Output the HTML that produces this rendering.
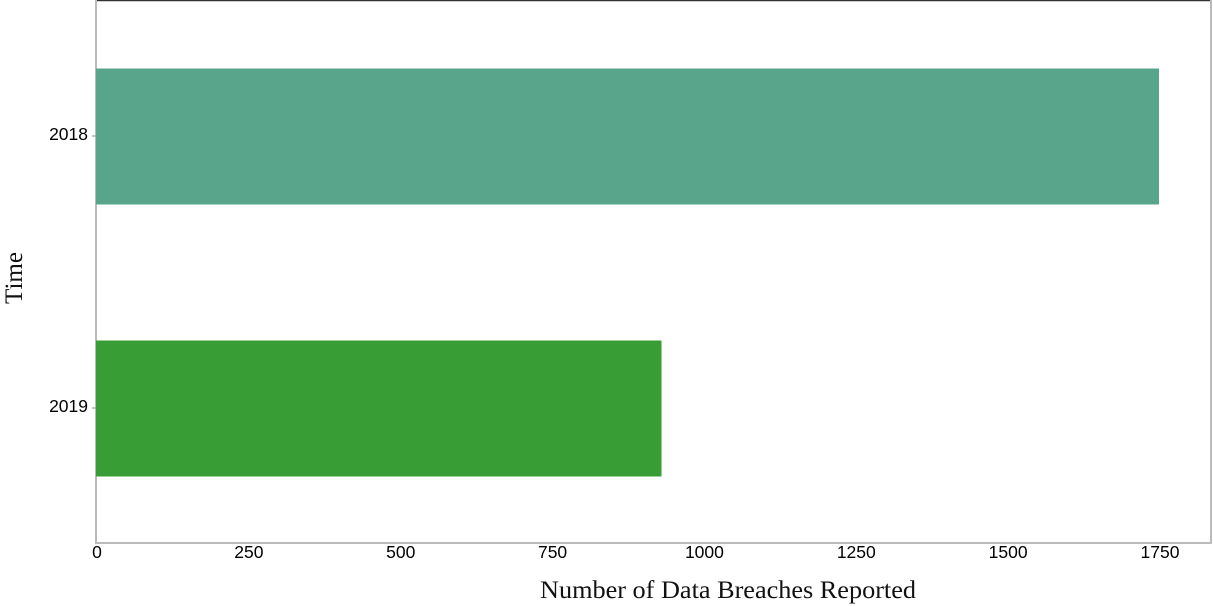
<!DOCTYPE html>
<html><head><meta charset="utf-8"><style>
body{margin:0;background:#fff}
svg{display:block}
</style></head><body>
<svg id="chart" width="1213" height="607">
<line x1="96" y1="0.5" x2="1211" y2="0.5" stroke="#333" stroke-width="1.5"/>
<line x1="1211" y1="0" x2="1211" y2="543" stroke="#bbb" stroke-width="2"/>
<line x1="96" y1="0" x2="96" y2="543" stroke="#bbb" stroke-width="2"/>
<line x1="95" y1="543" x2="1212" y2="543" stroke="#bbb" stroke-width="2"/>
<g id="bars"></g><g id="xticks"></g><g id="yticks"></g>
<text x="540" y="598" textLength="376" lengthAdjust="spacingAndGlyphs" font-family="Liberation Serif, serif" font-size="25" fill="#111">Number of Data Breaches Reported</text>
<text transform="translate(22,278) rotate(-90)" text-anchor="middle" font-family="Liberation Serif, serif" font-size="25" fill="#111">Time</text>
</svg>
<script>
const categories = ["2018", "2019"];
const values = [1750, 931];
const colors = ["#59a58c", "#389d35"];
const xTicks = [0, 250, 500, 750, 1000, 1250, 1500, 1750];
const ns = "http://www.w3.org/2000/svg";
const x = v => 96 + v * (1063 / 1750);
const band = 272, y0 = 0, barH = 136;
const yc = i => y0 + band * i + band / 2;
const bars = document.getElementById('bars');
categories.forEach((c, i) => {
  const r = document.createElementNS(ns, 'rect');
  r.setAttribute('x', x(0)); r.setAttribute('y', yc(i) - barH / 2 + 0.5);
  r.setAttribute('width', x(values[i]) - x(0)); r.setAttribute('height', barH);
  r.setAttribute('fill', colors[i]);
  
  
  bars.appendChild(r);
  const t = document.createElementNS(ns, 'text');
  t.setAttribute('x', 88); t.setAttribute('y', yc(i) + 4);
  t.setAttribute('text-anchor', 'end'); t.setAttribute('font-family', 'Liberation Sans, sans-serif');
  t.setAttribute('font-size', '17.5'); t.textContent = c;
  
  
  document.getElementById('yticks').appendChild(t);
  const l = document.createElementNS(ns, 'line');
  l.setAttribute('x1', 92); l.setAttribute('x2', 96); l.setAttribute('y1', yc(i)); l.setAttribute('y2', yc(i));
  l.setAttribute('stroke', '#888');
  
  
  document.getElementById('yticks').appendChild(l);
});
xTicks.forEach(v => {
  const t = document.createElementNS(ns, 'text');
  t.setAttribute('x', x(v) + 1); t.setAttribute('y', 558);
  t.setAttribute('text-anchor', 'middle'); t.setAttribute('font-family', 'Liberation Sans, sans-serif');
  t.setAttribute('font-size', '17.5'); t.textContent = v;
  
  
  document.getElementById('xticks').appendChild(t);
});
</script>
</body></html>
